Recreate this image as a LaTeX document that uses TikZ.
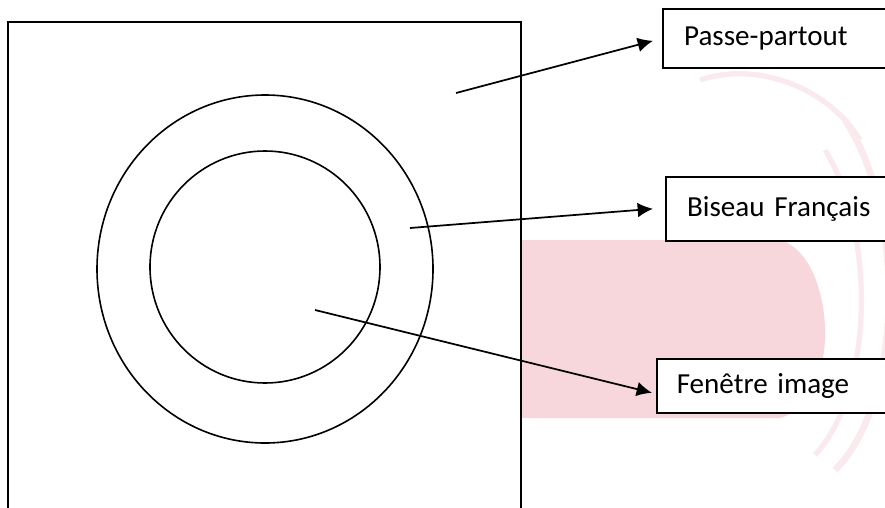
\documentclass[tikz,border=0pt]{standalone}
\usepackage{fontspec}
\setmainfont{Carlito}
\usetikzlibrary{arrows.meta}
\definecolor{pinkbg}{RGB}{247,214,220}
\definecolor{pinklt}{RGB}{251,234,237}
\tikzset{
  labelbox/.style={draw=black, fill=white, line width=1.2pt, anchor=north west,
    inner xsep=16pt, inner ysep=0pt, text width=160pt, align=left,
    font=\fontsize{21.8}{24}\selectfont},
  pointer/.style={line width=1.3pt, -{Latex[length=11.5pt,width=11pt]}},
  ring/.style={line width=1.2pt}
}
\begin{document}
\begin{tikzpicture}[x=0.75pt,y=-0.75pt]
\useasboundingbox (0,0) rectangle (885,507);
\clip (0,0) rectangle (885,507);
% faint watermark background
\fill[pinkbg] (522,240) -- (780,240) .. controls (835,255) and (845,400) .. (780,418) -- (522,418) -- cycle;
\draw[pinklt, line width=5pt] (845,120) .. controls (905,210) and (905,400) .. (835,470);
\draw[pinklt, line width=4pt] (825,150) .. controls (875,230) and (875,390) .. (815,455);
\draw[pinklt, line width=4pt] (700,80) .. controls (760,60) and (830,90) .. (860,140);
% main passe-partout
\draw[fill=white, line width=1.3pt] (8,22) rectangle (521,530);
\draw[ring] (265,269) ellipse [x radius=168, y radius=174];
\draw[ring] (265,267) ellipse [x radius=115, y radius=116];
% start points
\coordinate (ppstart) at (456,93);
\coordinate (bsstart) at (410,228);
\coordinate (fistart) at (315,310);
% label boxes
\node[labelbox, minimum height=44.25pt] (pp) at (662,8) {Passe-partout};
\node[labelbox, minimum height=48pt] (bs) at (665,176) {Biseau Français};
\node[labelbox, minimum height=40.5pt, inner xsep=15pt] (fi) at (656,358) {Fenêtre image};
% connectors
\draw[pointer] (ppstart) -- ([shift={(-9,2.5)}]pp.west);
\draw[pointer] (bsstart) -- ([shift={(-12,0)}]bs.west);
\draw[pointer] (fistart) -- ([shift={(-4,7)}]fi.west);
\end{tikzpicture}
\end{document}
